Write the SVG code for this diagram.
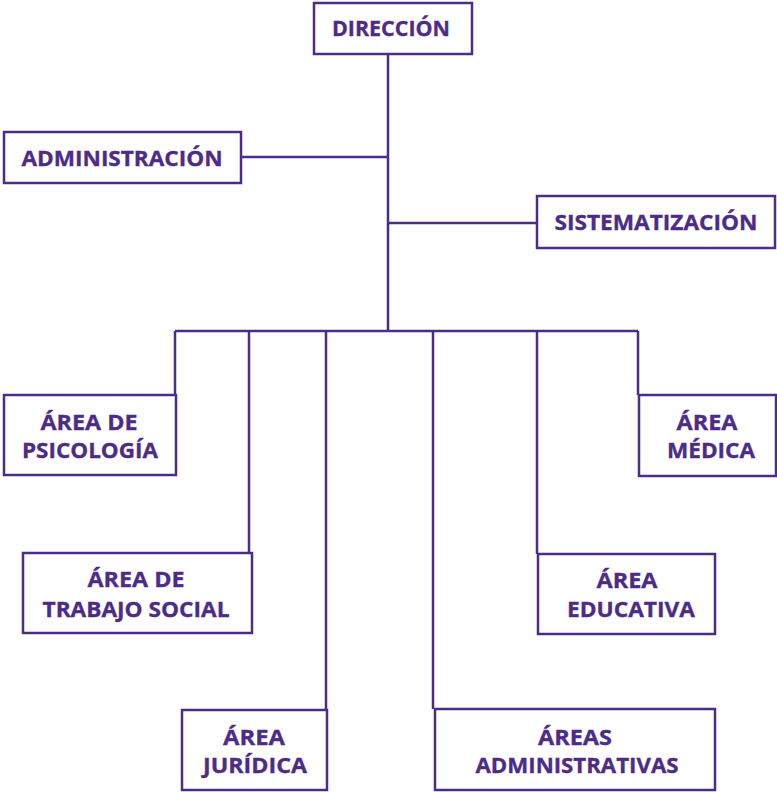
<svg xmlns="http://www.w3.org/2000/svg" width="777" height="792" viewBox="0 0 777 792">
<style>
.box{fill:#ffffff;stroke:#4b2c8b;stroke-width:2.5}
.ln{fill:none;stroke:#4b2c8b;stroke-width:2.5}
.t{font-family:"Open Sans","Liberation Sans",sans-serif;font-weight:bold;font-size:22px;fill:#4b2c8b;stroke:#4b2c8b;stroke-width:0.35;text-anchor:middle}
</style>
<rect width="777" height="792" fill="#ffffff"/>
<g id="connectors">
<path class="ln" d="M388,54 V331"/>
<path class="ln" d="M241,157 H388"/>
<path class="ln" d="M388,223 H537"/>
<path class="ln" d="M175,331 H638"/>
<path class="ln" d="M175,331 V395"/>
<path class="ln" d="M249,331 V553"/>
<path class="ln" d="M326,331 V710"/>
<path class="ln" d="M433,331 V709"/>
<path class="ln" d="M537,331 V554"/>
<path class="ln" d="M638,331 V395"/>
</g>
<g id="direccion">
<rect class="box" x="314" y="3" width="158" height="51"/>
<text class="t" x="391" y="36" textLength="118" lengthAdjust="spacingAndGlyphs">DIRECCIÓN</text>
</g>
<g id="administracion">
<rect class="box" x="4" y="132" width="237" height="51"/>
<text class="t" x="122" y="166" textLength="201" lengthAdjust="spacingAndGlyphs">ADMINISTRACIÓN</text>
</g>
<g id="sistematizacion">
<rect class="box" x="537" y="196" width="238" height="52"/>
<text class="t" x="656" y="230" textLength="203" lengthAdjust="spacingAndGlyphs">SISTEMATIZACIÓN</text>
</g>
<g id="psicologia">
<rect class="box" x="4" y="395" width="172" height="80"/>
<text class="t" x="89" y="430" textLength="97" lengthAdjust="spacingAndGlyphs">ÁREA DE</text>
<text class="t" x="90" y="458" textLength="136" lengthAdjust="spacingAndGlyphs">PSICOLOGÍA</text>
</g>
<g id="medica">
<rect class="box" x="639" y="395" width="137" height="81"/>
<text class="t" x="707" y="430" textLength="61" lengthAdjust="spacingAndGlyphs">ÁREA</text>
<text class="t" x="711" y="458" textLength="88" lengthAdjust="spacingAndGlyphs">MÉDICA</text>
</g>
<g id="trabajo-social">
<rect class="box" x="23" y="553" width="229" height="80"/>
<text class="t" x="136" y="587" textLength="97" lengthAdjust="spacingAndGlyphs">ÁREA DE</text>
<text class="t" x="136" y="617" textLength="187" lengthAdjust="spacingAndGlyphs">TRABAJO SOCIAL</text>
</g>
<g id="educativa">
<rect class="box" x="538" y="554" width="177" height="80"/>
<text class="t" x="627" y="588" textLength="61" lengthAdjust="spacingAndGlyphs">ÁREA</text>
<text class="t" x="631" y="617" textLength="128" lengthAdjust="spacingAndGlyphs">EDUCATIVA</text>
</g>
<g id="juridica">
<rect class="box" x="182" y="710" width="145" height="80"/>
<text class="t" x="254" y="745" textLength="62" lengthAdjust="spacingAndGlyphs">ÁREA</text>
<text class="t" x="255" y="773" textLength="104" lengthAdjust="spacingAndGlyphs">JURÍDICA</text>
</g>
<g id="administrativas">
<rect class="box" x="435" y="709" width="280" height="81"/>
<text class="t" x="575" y="745" textLength="74" lengthAdjust="spacingAndGlyphs">ÁREAS</text>
<text class="t" x="577" y="773" textLength="203" lengthAdjust="spacingAndGlyphs">ADMINISTRATIVAS</text>
</g>
</svg>
